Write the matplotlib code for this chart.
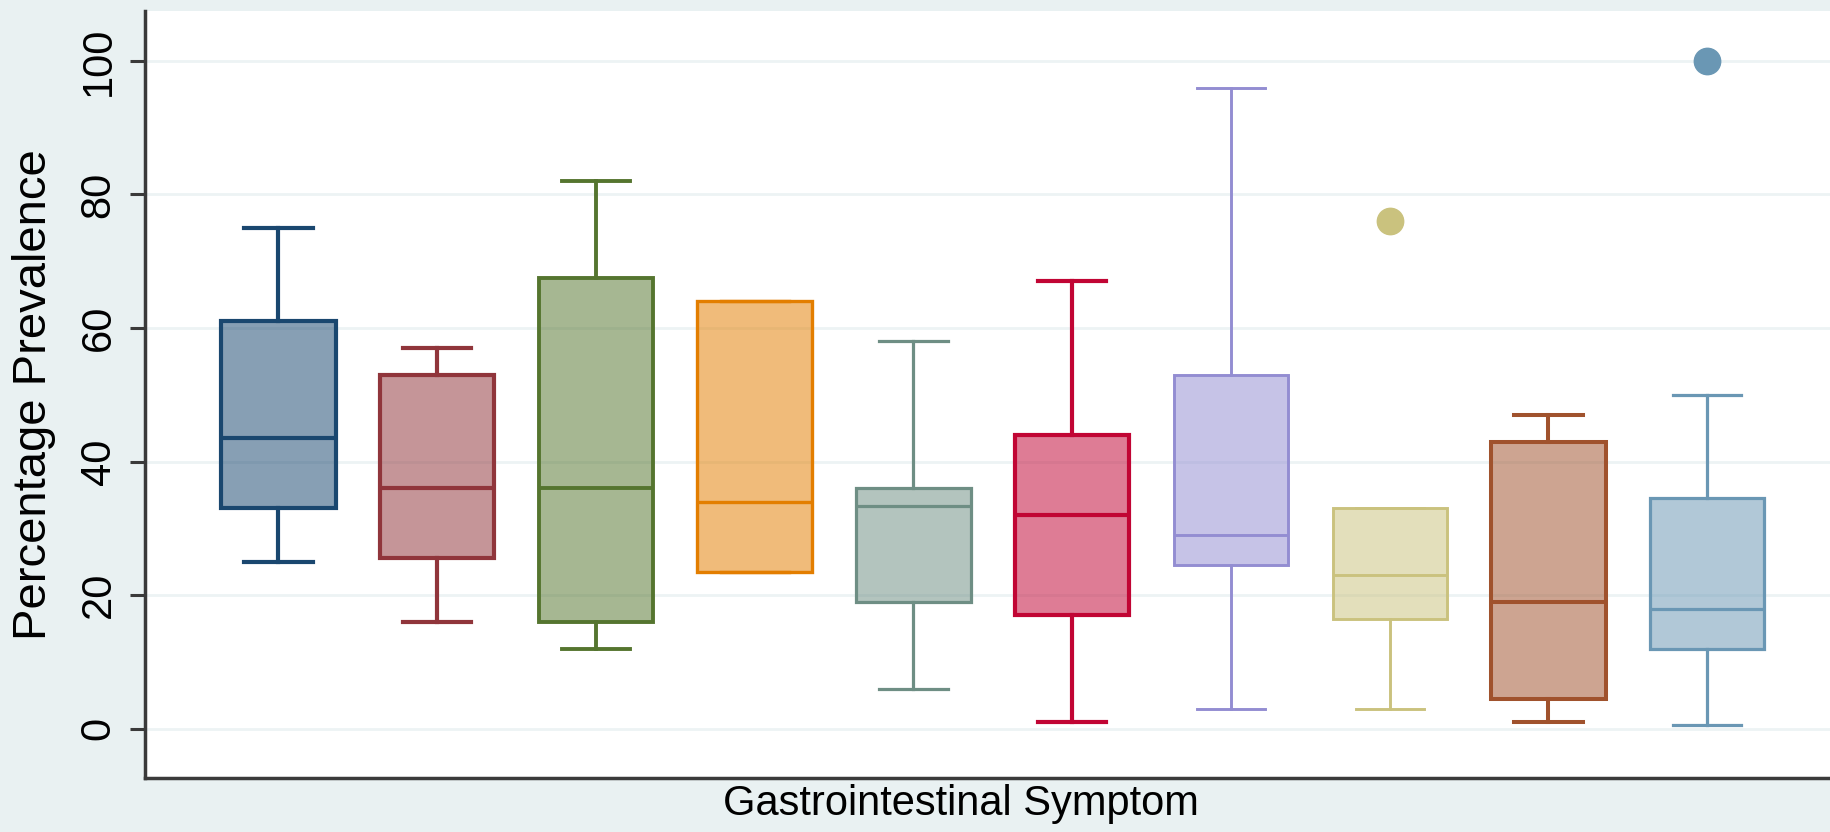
import matplotlib
matplotlib.use('Agg')
import matplotlib.pyplot as plt

# valores (percentual de prevalencia por sintoma)
whislo = [25, 16, 12, 23.5, 6, 1, 3, 3, 1, 0.5]
q1 = [33, 25.5, 16, 23.5, 19, 17, 24.5, 16.5, 4.5, 12]
med = [43.5, 36, 36, 34, 33.3, 32, 29, 23, 19, 18]
q3 = [61, 53, 67.5, 64, 36, 44, 53, 33, 43, 34.5]
whishi = [75, 57, 82, 64, 58, 67, 96, 33, 47, 50]
fliers = [[], [], [], [], [], [], [], [76], [], [100]]
yticks = [0, 20, 40, 60, 80, 100]

# cores estilo Stata s2color
cores = ['#1a476f', '#90353b', '#55752f', '#e37e00', '#6e8e84',
         '#c10534', '#938dd2', '#cac27e', '#a0522d', '#6a97b4']
larguras = [3.0, 3.0, 2.8, 2.4, 2.3, 3.0, 2.1, 2.1, 2.9, 2.3]

plt.rcParams['font.family'] = ['Liberation Sans', 'DejaVu Sans']

fig = plt.figure(figsize=(18.31, 8.32), dpi=100)
fig.patch.set_facecolor('#e9f1f2')
ax = fig.add_axes([0.0792, 0.0655, 0.9208, 0.9215])
ax.set_facecolor('white')

stats = []
for i in range(len(med)):
    stats.append({'whislo': whislo[i], 'q1': q1[i], 'med': med[i],
                  'q3': q3[i], 'whishi': whishi[i], 'fliers': fliers[i]})

pos = list(range(1, len(med) + 1))
bp = ax.bxp(stats, positions=pos, widths=0.72, capwidths=0.43,
            patch_artist=True, showfliers=True)

for i, c in enumerate(cores):
    lw = larguras[i]
    bp['boxes'][i].set_facecolor(matplotlib.colors.to_rgba(c, 0.52))
    bp['boxes'][i].set_edgecolor(c)
    bp['boxes'][i].set_linewidth(lw)
    bp['medians'][i].set_color(c)
    bp['medians'][i].set_linewidth(lw)
    for ln in bp['whiskers'][2*i:2*i+2] + bp['caps'][2*i:2*i+2]:
        ln.set_color(c)
        ln.set_linewidth(lw)
    bp['fliers'][i].set_marker('o')
    bp['fliers'][i].set_markerfacecolor(c)
    bp['fliers'][i].set_markeredgecolor(c)
    bp['fliers'][i].set_markersize(19)

ax.set_xlim(0.16, 10.78)
ax.set_ylim(-7.3, 107.5)
ax.set_yticks(yticks)
ax.set_yticklabels([str(t) for t in yticks], rotation=90, va='center')
ax.set_xticks([])
ax.grid(axis='y', color='#edf3f4', linewidth=2)
ax.set_axisbelow(True)

for s in ['top', 'right']:
    ax.spines[s].set_visible(False)
for s in ['left', 'bottom']:
    ax.spines[s].set_color('#3a3a3a')
    ax.spines[s].set_linewidth(2.5)
ax.tick_params(axis='y', length=11, width=2.2, color='#3a3a3a', labelsize=30, pad=8)

ax.set_ylabel('Percentage Prevalence', fontsize=34)
ax.yaxis.set_label_coords(-0.053, 0.5)
ax.set_xlabel('Gastrointestinal Symptom', fontsize=30)
ax.xaxis.set_label_coords(0.484, -0.034)
ax.xaxis.label.set_va('center')

plt.savefig('out.png', dpi=100, facecolor=fig.get_facecolor())
